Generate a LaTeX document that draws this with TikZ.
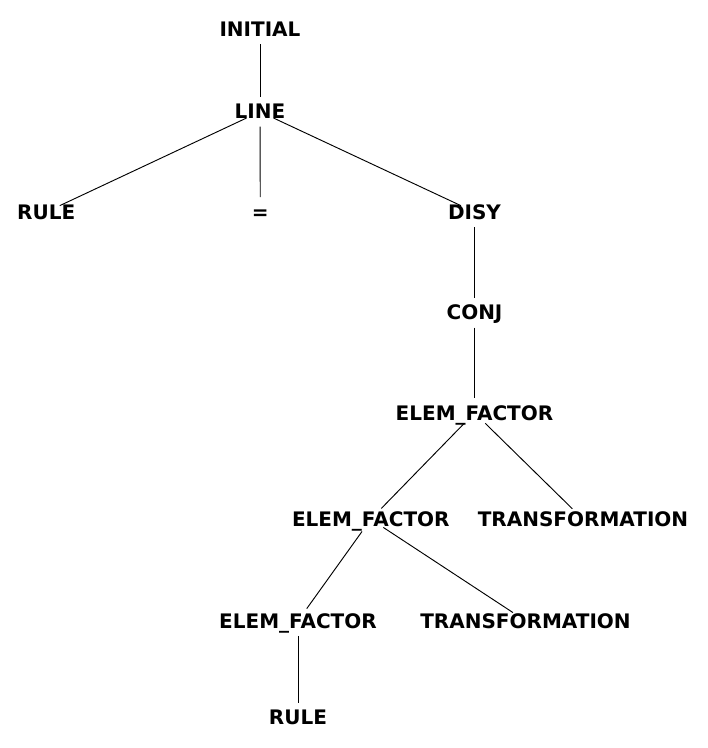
\documentclass[tikz,border=0pt]{standalone}
\usepackage{fontspec}
\setmainfont{DejaVu Sans}
\usepackage{xcolor}

\begin{document}
\begin{tikzpicture}[scale=0.3,
  every node/.style={inner sep=0pt,font=\fontsize{17.07}{20}\selectfont\bfseries,text height=12.4pt,text depth=0pt},
  branch/.style={black,line width=0.8pt,shorten <=12.8pt,shorten >=12.8pt}]
\useasboundingbox (0,0) rectangle (70.8,-74.8);
\node (initial) at (26,-2.95) {INITIAL};
\node (line) at (26,-11.17) {LINE};
\node (rulea) at (4.62,-21.2) {RULE};
\node (eq) at (26.03,-21.2) {=};
\node (disy) at (47.45,-21.2) {DISY};
\node (conj) at (47.45,-31.25) {CONJ};
\node (efa) at (47.45,-41.28) {ELEM\_FACTOR};
\node (efb) at (37.08,-51.92) {ELEM\_FACTOR};
\node (transa) at (58.3,-51.92) {TRANSFORMATION};
\node (efc) at (29.8,-62.08) {ELEM\_FACTOR};
\node (transb) at (52.55,-62.08) {TRANSFORMATION};
\node (ruleb) at (29.8,-71.75) {RULE};
\draw [branch] (initial.center) -- (line.center);
\draw [branch] (line.center) -- (rulea.center);
\draw [branch] (line.center) -- (eq.center);
\draw [branch] (line.center) -- (disy.center);
\draw [branch] (disy.center) -- (conj.center);
\draw [branch] (conj.center) -- (efa.center);
\draw [branch] (efa.center) -- (efb.center);
\draw [branch] (efa.center) -- (transa.center);
\draw [branch] (efb.center) -- (efc.center);
\draw [branch] (efb.center) -- (transb.center);
\draw [branch] (efc.center) -- (ruleb.center);
\end{tikzpicture}
\end{document}
